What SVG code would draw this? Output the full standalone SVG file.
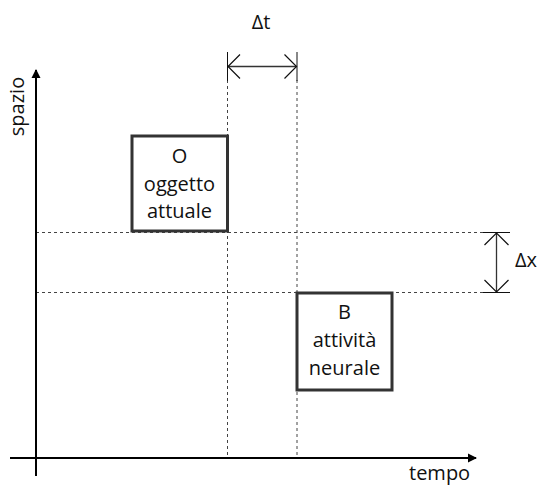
<svg xmlns="http://www.w3.org/2000/svg" width="547" height="486" viewBox="0 0 547 486">
  <style>
    text { font-family: "Open Sans", "Noto Sans", "Liberation Sans", sans-serif; font-size: 20px; fill: #111; }
    .c { text-anchor: middle; }
    .axis { stroke: #000; stroke-width: 2; fill: none; }
    .guide { stroke: #444; stroke-width: 1; stroke-dasharray: 3 3; fill: none; }
    .tick { stroke: #111; stroke-width: 1; fill: none; }
    .dim { stroke: #333; stroke-width: 1.3; fill: none; }
    .box { fill: #fff; stroke: #333; stroke-width: 3; }
  </style>
  <defs>
    <marker id="tri" markerUnits="userSpaceOnUse" markerWidth="10" markerHeight="10" viewBox="0 -5 10 10" refX="8" refY="0" orient="auto">
      <path d="M0,-4.5 L9,0 L0,4.5 Z" fill="#000"/>
    </marker>
    <marker id="chev" markerUnits="userSpaceOnUse" markerWidth="30" markerHeight="30" viewBox="-15 -15 30 30" refX="0" refY="0" orient="auto-start-reverse">
      <path d="M-12,-12 L0,0 L-12,12" fill="none" stroke="#111" stroke-width="1.2"/>
    </marker>
  </defs>
  <rect width="547" height="486" fill="#fff"/>

  <g id="connectors">
    <!-- guide lines -->
    <line class="guide" x1="227.5" y1="80" x2="227.5" y2="458"/>
    <line class="guide" x1="297" y1="80" x2="297" y2="458"/>
    <line class="guide" x1="36" y1="232.5" x2="483" y2="232.5"/>
    <line class="guide" x1="36" y1="292.5" x2="483" y2="292.5"/>
    <!-- axes -->
    <line class="axis" x1="36" y1="476" x2="36" y2="70" marker-end="url(#tri)"/>
    <line class="axis" x1="10" y1="458" x2="476" y2="458" marker-end="url(#tri)"/>
    <!-- delta t dimension -->
    <line class="tick" x1="227.5" y1="52" x2="227.5" y2="81"/>
    <line class="tick" x1="297" y1="52" x2="297" y2="81"/>
    <line class="dim" x1="228" y1="66.5" x2="296.5" y2="66.5" marker-start="url(#chev)" marker-end="url(#chev)"/>
    <!-- delta x dimension -->
    <line class="tick" x1="483" y1="232.5" x2="510" y2="232.5"/>
    <line class="tick" x1="483" y1="292.5" x2="510" y2="292.5"/>
    <line class="dim" x1="496.5" y1="233" x2="496.5" y2="292" marker-start="url(#chev)" marker-end="url(#chev)"/>
  </g>

  <g id="node-O">
    <rect class="box" x="132" y="136" width="95.5" height="95"/>
    <text class="c" x="179.5" y="163">O</text>
    <text class="c" x="179.5" y="190.5">oggetto</text>
    <text class="c" x="179.5" y="218">attuale</text>
  </g>

  <g id="node-B">
    <rect class="box" x="297" y="293" width="95" height="97"/>
    <text class="c" x="344.5" y="318.5">B</text>
    <text class="c" x="344.5" y="347">attività</text>
    <text class="c" x="344.5" y="375">neurale</text>
  </g>

  <g id="labels">
    <text class="c" x="261" y="29">Δt</text>
    <text x="515" y="267">Δx</text>
    <text x="409" y="480">tempo</text>
    <text class="c" transform="translate(24,106.5) rotate(-90)">spazio</text>
  </g>
</svg>
